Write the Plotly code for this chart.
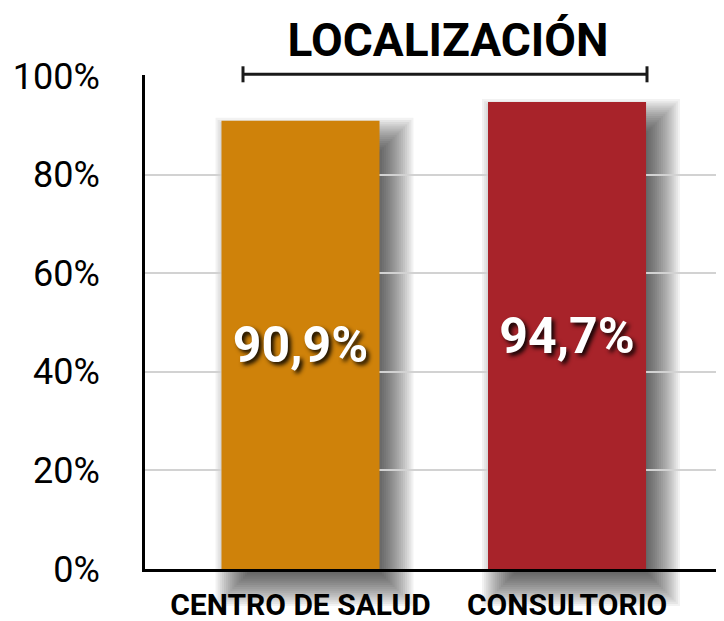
import plotly.graph_objects as go

categories = ["CENTRO DE SALUD", "CONSULTORIO"]
values = [90.9, 94.7]
colors = ["#CF820A", "#A8232A"]
y_tickvals = [0, 20, 40, 60, 80, 100]
y_ticktext = ["0%", "20%", "40%", "60%", "80%", "100%"]
title_text = "LOCALIZACIÓN"

# page body has an 8px default margin; figure is sized to end at the window edge
OFF = 8
W, H = 724 - OFF, 621 - OFF
ML, MR, MT, MB = 145 - OFF, 0, 75 - OFF, 52
XR = [-0.5835, 1.589]
YR = [0, 100.2]
BARGAP = 0.407

PW = W - ML - MR
PH = H - MT - MB
px_per_x = PW / (XR[1] - XR[0])
px_per_y = PH / (YR[1] - YR[0])

fig = go.Figure()
fig.add_trace(go.Bar(
    x=list(range(len(categories))), y=values,
    marker=dict(color=colors, line=dict(width=0)),
    texttemplate="%{y:.1f}%",
    textposition="inside", insidetextanchor="middle",
    textangle=0,
    textfont=dict(family="Roboto", size=50, color="white", weight="bold",
                  shadow="3px 3px 4px rgba(0,0,0,0.9)"),
    hoverinfo="skip",
))

# soft drop shadows behind bars (layered rectangles)
shapes = []
half = (1 - BARGAP) / 2
dx, dy, R, N, a = 14, 17, 20, 20, 0.05
for i, v in enumerate(values):
    for k in range(N):
        s = -R + 2 * R * k / (N - 1)
        x0 = i - half + (dx - s) / px_per_x
        x1 = i + half + (dx + s) / px_per_x
        ytop = v - (dy - s) / px_per_y
        ybot = 0 - (dy + s) / px_per_y
        shapes.append(dict(type="rect", xref="x", yref="paper",
                           x0=x0, x1=x1,
                           y0=(ybot - YR[0]) / (YR[1] - YR[0]),
                           y1=(ytop - YR[0]) / (YR[1] - YR[0]),
                           fillcolor=f"rgba(0,0,0,{a})", line=dict(width=0),
                           layer="below"))

# bracket under the title
bx0 = (243 - 145) / PW
bx1 = (647 - 145) / PW
by = 1 + 0.7 / PH
tick_h = 8 / PH
bcol = "#1a1a1a"
shapes.append(dict(type="line", xref="paper", yref="paper", x0=bx0, x1=bx1, y0=by, y1=by,
                   line=dict(color=bcol, width=3)))
for bx in (bx0, bx1):
    shapes.append(dict(type="line", xref="paper", yref="paper", x0=bx, x1=bx,
                       y0=by - tick_h, y1=by + tick_h, line=dict(color=bcol, width=3)))

fig.update_layout(
    width=W, height=H,
    margin=dict(l=ML, r=MR, t=MT, b=MB, autoexpand=False),
    paper_bgcolor="white", plot_bgcolor="white",
    separators=",.",
    bargap=BARGAP,
    showlegend=False,
    shapes=shapes,
    title=dict(text=title_text, x=(448 - OFF) / W, xanchor="center", y=1 - (40 - OFF) / H,
               yanchor="middle",
               font=dict(family="Roboto", size=46, color="black", weight="bold")),
    xaxis=dict(range=XR, tickvals=list(range(len(categories))), ticktext=categories,
               showline=True, linecolor="black", linewidth=3, showgrid=False,
               zeroline=False, ticks="", ticklabelstandoff=7, automargin=False,
               tickfont=dict(family="Roboto", size=30, color="black", weight="bold")),
    yaxis=dict(range=YR, tickvals=y_tickvals, ticktext=y_ticktext,
               showline=True, linecolor="black", linewidth=3,
               showgrid=True, gridcolor="#d2d2d2", gridwidth=1.5,
               zeroline=False, ticks="", ticklabelstandoff=35, automargin=False,
               tickfont=dict(family="Roboto", size=36, color="black", weight="normal")),
)

fig.write_html("out.html")
